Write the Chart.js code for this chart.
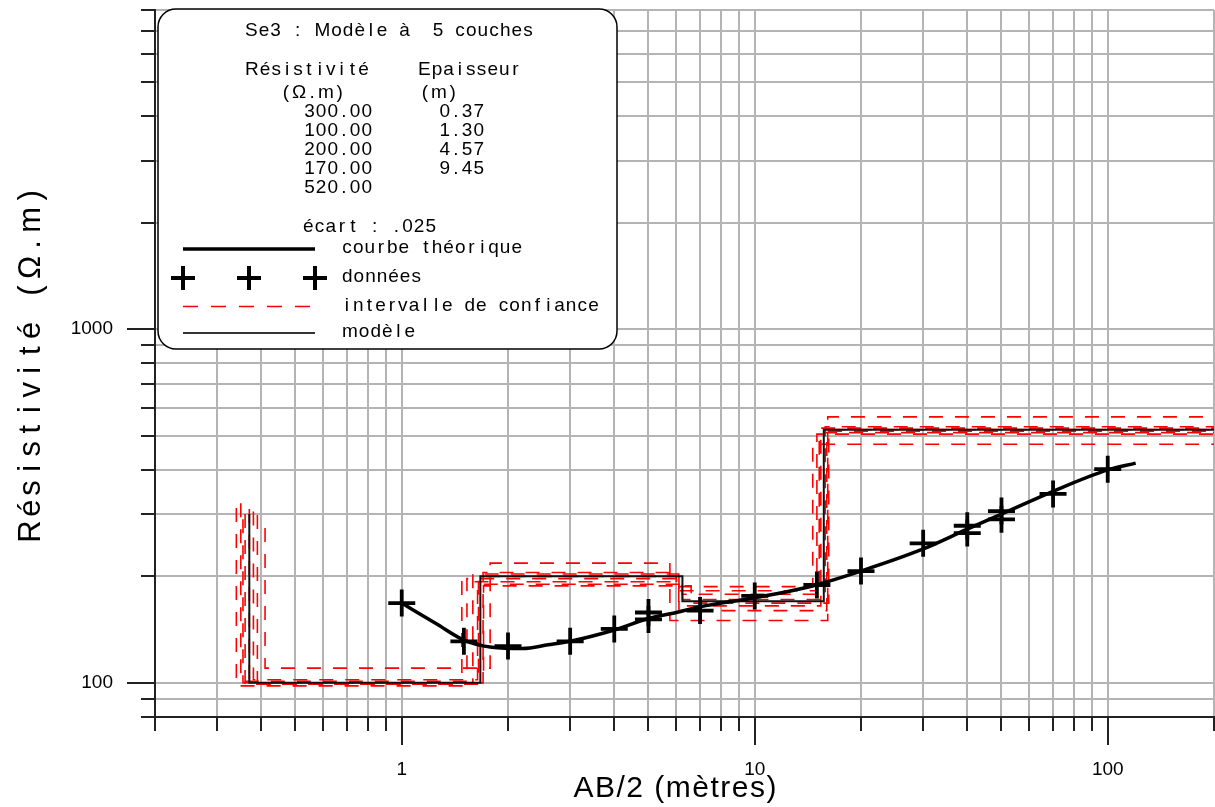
<!DOCTYPE html>
<html>
<head>
<meta charset="utf-8">
<script src="https://cdn.jsdelivr.net/npm/chart.js@4.4.1/dist/chart.umd.min.js"></script>
<style>
  html, body { margin: 0; padding: 0; background: #fff; overflow: hidden; }
  canvas { display: block; }
</style>
</head>
<body>
<canvas id="sondage" width="1215" height="807"></canvas>
<script>
// axes : graduations et libelles
const xTicks = [0.2, 0.3, 0.4, 0.5, 0.6, 0.7, 0.8, 0.9, 1, 2, 3, 4, 5, 6, 7, 8, 9, 10,
  20, 30, 40, 50, 60, 70, 80, 90, 100, 200];
const xLabels = [1, 10, 100];
const yTicks = [80, 90, 100, 200, 300, 400, 500, 600, 700, 800, 900, 1000,
  2000, 3000, 4000, 5000, 6000, 7000, 8000];
const yLabels = [100, 1000];

// donnees de terrain (AB/2, resistivite apparente)
const mesAB = [1, 1.5, 2, 3, 4, 5, 5, 7, 10, 15, 20, 30, 40, 40, 50, 50, 70, 100];
const mesRho = [168, 131, 127, 131, 142, 158, 151, 160, 176, 189, 207, 248, 278, 265, 306, 290, 342, 402];

// courbe theorique
const courbeAB = [1, 1.25, 1.5, 1.8, 2.2, 2.6, 3, 4, 5, 6, 7, 10, 14, 20, 30, 40, 50, 70, 100, 120];
const courbeRho = [168, 147, 132, 126, 125, 128, 131, 141, 152, 158, 164, 174, 186, 207, 239, 272, 300, 348, 400, 418];

// modele a 5 couches
const modeleRho = [300, 100, 200, 170, 520];
const modeleEp = [0.37, 1.30, 4.57, 9.45];
const ecart = '.025';

// modeles equivalents (intervalle de confiance)
const equivRho = [
  [274, 110, 218, 150, 565],
  [312, 98, 193, 187, 473],
  [322, 101, 197, 178, 510],
  [300, 99, 203, 165, 525],
  [305, 102, 190, 172, 530],
  [298, 100, 205, 160, 515],
  [290, 100, 188, 168, 520],
  [310, 99, 200, 182, 505]
];
const equivEp = [
  [0.41, 1.37, 3.97, 10.35],
  [0.34, 1.14, 4.62, 8.5],
  [0.35, 1.18, 4.7, 9.0],
  [0.36, 1.23, 4.5, 9.3],
  [0.38, 1.26, 4.6, 9.6],
  [0.39, 1.31, 4.4, 9.9],
  [0.355, 1.35, 4.9, 9.6],
  [0.37, 1.28, 4.35, 9.0]
];

const FONT = '"Liberation Sans", Arial, sans-serif';

function stepPath(rho, ep) {
  const pts = [];
  let z = 0;
  ep.forEach((h, i) => {
    z += h;
    pts.push({ x: z, y: rho[i] }, { x: z, y: rho[i + 1] });
  });
  pts.push({ x: 200, y: rho[rho.length - 1] });
  return pts;
}

// texte a chasse "table tracante" : les lettres etroites gardent une cellule large
function plotText(ctx, text, x, y, size, gap, align, cell = 0.52) {
  ctx.font = size + 'px ' + FONT;
  const chars = [...text];
  const minW = size * cell;
  const w = chars.map(c => Math.max(ctx.measureText(c).width, minW));
  const total = w.reduce((a, b) => a + b, 0) + gap * (chars.length - 1);
  let cx = align === 'center' ? x - total / 2 : align === 'right' ? x - total : x;
  ctx.textAlign = 'center';
  ctx.textBaseline = 'middle';
  chars.forEach((c, i) => {
    ctx.fillText(c, cx + w[i] / 2, y);
    cx += w[i] + gap;
  });
}

function roundBox(ctx, x1, y1, x2, y2, r) {
  ctx.beginPath();
  ctx.moveTo(x1 + r, y1);
  ctx.arcTo(x2, y1, x2, y2, r);
  ctx.arcTo(x2, y2, x1, y2, r);
  ctx.arcTo(x1, y2, x1, y1, r);
  ctx.arcTo(x1, y1, x2, y1, r);
  ctx.closePath();
}

const cartouche = {
  id: 'cartouche',
  beforeDraw(chart) {
    const ctx = chart.ctx;
    ctx.save();
    ctx.fillStyle = '#fff';
    ctx.fillRect(0, 0, chart.width, chart.height);
    ctx.restore();
  },
  afterDraw(chart) {
    const ctx = chart.ctx;
    const xs = chart.scales.x;
    const ys = chart.scales.y;
    ctx.save();

    // grandes graduations
    ctx.strokeStyle = '#222';
    ctx.lineWidth = 2;
    xLabels.forEach(v => {
      const px = Math.round(xs.getPixelForValue(v));
      ctx.beginPath();
      ctx.moveTo(px, xs.top + 13);
      ctx.lineTo(px, xs.top + 28);
      ctx.stroke();
    });
    yLabels.forEach(v => {
      const py = Math.round(ys.getPixelForValue(v));
      ctx.beginPath();
      ctx.moveTo(ys.right - 13, py);
      ctx.lineTo(ys.right - 28, py);
      ctx.stroke();
    });

    // titres des axes
    ctx.fillStyle = '#000';
    plotText(ctx, 'AB/2 (mètres)', 675, 789, 30, 1.5, 'center', 0);
    ctx.save();
    ctx.translate(31, 365);
    ctx.rotate(-Math.PI / 2);
    plotText(ctx, 'Résistivité (Ω.m)', 0, 0, 31, 3.5, 'center');
    ctx.restore();

    // cartouche
    roundBox(ctx, 158, 9, 617, 349, 18);
    ctx.fillStyle = '#fff';
    ctx.fill();
    ctx.strokeStyle = '#000';
    ctx.lineWidth = 1.5;
    ctx.stroke();

    ctx.fillStyle = '#000';
    plotText(ctx, 'Se3 : Modèle à  5 couches', 245, 31, 19, 1, 'left');
    plotText(ctx, 'Résistivité', 245, 70, 19, 1, 'left');
    plotText(ctx, 'Epaisseur', 418, 70, 19, 1, 'left');
    plotText(ctx, '(Ω.m)', 281, 93, 19, 1, 'left');
    plotText(ctx, '(m)', 420, 93, 19, 1, 'left');
    modeleRho.forEach((r, i) => plotText(ctx, r.toFixed(2), 372, 112 + i * 19, 19, 1, 'right'));
    modeleEp.forEach((h, i) => plotText(ctx, h.toFixed(2), 484, 112 + i * 19, 19, 1, 'right'));
    plotText(ctx, 'écart : ' + ecart, 303, 227, 19, 1, 'left');

    // echantillons de legende
    ctx.strokeStyle = '#000';
    ctx.lineWidth = 3.5;
    ctx.beginPath();
    ctx.moveTo(183, 249);
    ctx.lineTo(315, 249);
    ctx.stroke();

    ctx.lineWidth = 4;
    [183, 249, 315].forEach(cx => {
      ctx.beginPath();
      ctx.moveTo(cx - 12, 278);
      ctx.lineTo(cx + 12, 278);
      ctx.moveTo(cx, 266);
      ctx.lineTo(cx, 290);
      ctx.stroke();
    });

    ctx.strokeStyle = '#ff0000';
    ctx.lineWidth = 1.5;
    ctx.setLineDash([15, 13]);
    ctx.beginPath();
    ctx.moveTo(183, 306.5);
    ctx.lineTo(310, 306.5);
    ctx.stroke();
    ctx.setLineDash([]);

    ctx.strokeStyle = '#333';
    ctx.lineWidth = 2;
    ctx.beginPath();
    ctx.moveTo(183, 333);
    ctx.lineTo(315, 333);
    ctx.stroke();

    ctx.fillStyle = '#000';
    plotText(ctx, 'courbe théorique', 342, 248, 19, 1, 'left');
    plotText(ctx, 'données', 342, 277, 19, 1, 'left');
    plotText(ctx, 'intervalle de confiance', 342, 306, 19, 1, 'left');
    plotText(ctx, 'modèle', 342, 332, 19, 1, 'left');

    ctx.restore();
  }
};

const equivSets = equivRho.map((rho, i) => ({
  label: 'intervalle de confiance',
  data: stepPath(rho, equivEp[i]),
  borderColor: '#ff0000',
  borderWidth: 1.6,
  borderDash: [14, 12],
  pointRadius: 0,
  tension: 0,
  order: 3
}));

new Chart(document.getElementById('sondage'), {
  type: 'line',
  data: {
    datasets: [
      {
        label: 'données',
        data: mesAB.map((x, i) => ({ x, y: mesRho[i] })),
        showLine: false,
        pointStyle: 'cross',
        pointRadius: 13.5,
        pointBorderWidth: 3.8,
        pointBorderColor: '#000',
        pointBackgroundColor: '#000',
        order: 0
      },
      {
        label: 'courbe théorique',
        data: courbeAB.map((x, i) => ({ x, y: courbeRho[i] })),
        borderColor: '#000',
        borderWidth: 3.5,
        pointRadius: 0,
        cubicInterpolationMode: 'monotone',
        order: 1
      },
      {
        label: 'modèle',
        data: stepPath(modeleRho, modeleEp),
        borderColor: '#111',
        borderWidth: 2,
        pointRadius: 0,
        tension: 0,
        order: 2
      },
      ...equivSets
    ]
  },
  options: {
    responsive: false,
    animation: false,
    layout: { autoPadding: false, padding: { top: 10, right: 1, left: 0, bottom: 0 } },
    plugins: {
      legend: { display: false },
      title: { display: false },
      tooltip: { enabled: false }
    },
    scales: {
      x: {
        type: 'logarithmic',
        min: 0.2,
        max: 200,
        afterBuildTicks: s => { s.ticks = xTicks.map(v => ({ value: v })); },
        afterFit: s => { s.height = 90; s.paddingLeft = 0; s.paddingRight = 0; },
        ticks: {
          autoSkip: false,
          maxRotation: 0,
          padding: 27,
          color: '#000',
          font: { family: FONT, size: 19 },
          callback: v => xLabels.includes(v) ? String(v) : ''
        },
        grid: { color: '#b4b4b4', lineWidth: 2, tickLength: 14, tickColor: '#222', tickWidth: 2 },
        border: { display: true, color: '#222', width: 2 }
      },
      y: {
        type: 'logarithmic',
        min: 80,
        max: 8000,
        afterBuildTicks: s => { s.ticks = yTicks.map(v => ({ value: v })); },
        afterFit: s => { s.width = 155; s.paddingTop = 0; s.paddingBottom = 0; },
        ticks: {
          autoSkip: false,
          padding: 28,
          color: '#000',
          font: { family: FONT, size: 19 },
          callback: v => yLabels.includes(v) ? String(v) : ''
        },
        grid: { color: '#b4b4b4', lineWidth: 2, tickLength: 14, tickColor: '#222', tickWidth: 2 },
        border: { display: true, color: '#222', width: 2 }
      }
    }
  },
  plugins: [cartouche]
});
</script>
</body>
</html>
